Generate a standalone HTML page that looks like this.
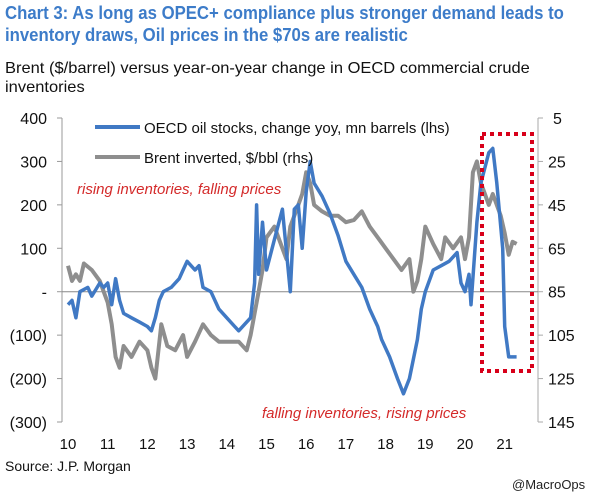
<!DOCTYPE html>
<html><head><meta charset="utf-8"><style>
body{margin:0;background:#fff;font-family:"Liberation Sans",Arial,sans-serif;}
#wrap{position:relative;width:605px;height:500px;overflow:hidden;}
.t{position:absolute;white-space:nowrap;}
</style></head><body>
<div id="wrap">
<div class="t" style="left:5px;top:2px;color:#3d7cc9;font-weight:bold;font-size:18px;line-height:22px;transform:scaleX(0.93);transform-origin:left;">Chart 3: As long as OPEC+ compliance plus stronger demand leads to<br>inventory draws, Oil prices in the $70s are realistic</div>
<div class="t" style="left:5px;top:59px;color:#111;font-size:16px;line-height:19px;transform:scaleX(1.03);transform-origin:left;">Brent ($/barrel) versus year-on-year change in OECD commercial crude<br>inventories</div>
<svg id="chart" width="605" height="500" style="position:absolute;left:0;top:0"></svg>
<div class="t" style="left:5px;top:458px;font-size:14px;color:#111;">Source: J.P. Morgan</div>
<div class="t" style="left:512px;top:477px;font-size:13px;color:#222;">@MacroOps</div>
</div>
<script>
const oecdT=[2010.0,2010.1,2010.2,2010.3,2010.5,2010.6,2010.8,2010.9,2011.0,2011.1,2011.2,2011.3,2011.4,2011.6,2011.8,2012.0,2012.1,2012.2,2012.3,2012.4,2012.6,2012.8,2012.9,2013.0,2013.2,2013.3,2013.4,2013.6,2013.8,2014.0,2014.2,2014.3,2014.5,2014.6,2014.7,2014.75,2014.8,2014.9,2015.0,2015.2,2015.4,2015.6,2015.7,2015.8,2015.9,2016.0,2016.1,2016.2,2016.4,2016.6,2016.8,2017.0,2017.2,2017.4,2017.6,2017.8,2017.9,2018.1,2018.3,2018.45,2018.6,2018.8,2018.9,2019.0,2019.2,2019.4,2019.6,2019.8,2019.9,2020.0,2020.1,2020.15,2020.3,2020.4,2020.6,2020.7,2020.8,2020.95,2021.0,2021.1,2021.3];
const oecdV=[-30,-20,-60,0,10,-10,20,10,20,-30,30,-20,-50,-60,-70,-80,-90,-60,-20,0,10,30,50,70,50,60,10,0,-40,-60,-80,-90,-70,-60,20,200,40,160,50,120,190,0,190,200,100,230,300,250,220,180,130,70,40,10,-40,-80,-110,-150,-200,-235,-200,-110,-40,0,50,60,70,90,20,0,40,-30,160,250,320,330,250,100,-80,-150,-150];
const brentT=[2010.0,2010.1,2010.2,2010.3,2010.4,2010.6,2010.8,2010.9,2011.0,2011.1,2011.2,2011.3,2011.4,2011.6,2011.8,2012.0,2012.1,2012.2,2012.35,2012.5,2012.7,2012.9,2013.0,2013.2,2013.4,2013.6,2013.8,2014.0,2014.3,2014.5,2014.6,2014.7,2014.8,2014.9,2015.0,2015.2,2015.4,2015.5,2015.6,2015.8,2015.9,2016.0,2016.1,2016.2,2016.4,2016.6,2016.8,2017.0,2017.2,2017.4,2017.6,2017.8,2018.0,2018.2,2018.4,2018.6,2018.7,2018.8,2018.9,2019.0,2019.2,2019.4,2019.5,2019.7,2019.9,2020.0,2020.1,2020.2,2020.3,2020.4,2020.5,2020.6,2020.7,2020.9,2021.0,2021.1,2021.2,2021.3];
const brentV=[73,80,77,80,72,75,80,85,90,100,115,120,110,115,108,112,120,125,100,110,112,105,115,108,100,105,108,108,108,112,105,95,85,75,60,55,65,70,55,45,40,30,35,45,48,50,50,53,52,48,55,60,65,70,75,70,85,80,70,55,63,70,60,65,60,70,60,30,25,35,40,45,40,50,58,68,62,63];
const leftTicks=[400,300,200,100,0,-100,-200,-300];
const leftLabels=["400","300","200","100","-","(100)","(200)","(300)"];
const rightTicks=[5,25,45,65,85,105,125,145];
const yearTicks=[2010,2011,2012,2013,2014,2015,2016,2017,2018,2019,2020,2021];
const yearLabels=["10","11","12","13","14","15","16","17","18","19","20","21"];
const NS="http://www.w3.org/2000/svg";
const svg=document.getElementById('chart');
const X0=62,X1=538,Y0=118,Y1=422;
const xs=t=>68+(t-2010)*39.7;
const yl=v=>Y0+(400-v)/700*(Y1-Y0);
const yr=p=>Y0+(p-5)/140*(Y1-Y0);
function mk(tag,attrs,txt){const e=document.createElementNS(NS,tag);for(const k in attrs)e.setAttribute(k,attrs[k]);if(txt!==undefined)e.textContent=txt;svg.appendChild(e);return e;}
let e;
e=mk('line',{x1:X0,y1:Y0,x2:X0,y2:Y1,stroke:'#999'});


e=mk('line',{x1:X1,y1:Y0,x2:X1,y2:Y1,stroke:'#aaa'});


e=mk('line',{x1:X0,y1:yl(0),x2:X1,y2:yl(0),stroke:'#888'});


leftTicks.forEach((v,i)=>{
 mk('line',{x1:X0-5,y1:yl(v),x2:X0,y2:yl(v),stroke:'#999'});
 e=mk('text',{x:47,y:yl(v)+6,'text-anchor':'end','font-size':16,fill:'#111'},leftLabels[i]);
 
 
});
rightTicks.forEach(v=>{
 mk('line',{x1:X1,y1:yr(v),x2:X1+5,y2:yr(v),stroke:'#aaa'});
 e=mk('text',{x:v<10?553:548,y:yr(v)+6,'font-size':16,fill:'#111'},String(v));
 
 
});
yearTicks.forEach((t,i)=>{
 e=mk('text',{x:xs(t),y:449,'text-anchor':'middle','font-size':15,fill:'#111'},yearLabels[i]);
 
 
});
e=mk('path',{d:brentT.map((t,i)=>(i?'L':'M')+xs(t).toFixed(1)+','+yr(brentV[i]).toFixed(1)).join(''),fill:'none',stroke:'#8e8e8e','stroke-width':4,'stroke-linejoin':'round'});


e=mk('path',{d:oecdT.map((t,i)=>(i?'L':'M')+xs(t).toFixed(1)+','+yl(oecdV[i]).toFixed(1)).join(''),fill:'none',stroke:'#4079c4','stroke-width':3.5,'stroke-linejoin':'round'});


e=mk('line',{x1:95,y1:127,x2:140,y2:127,stroke:'#4079c4','stroke-width':4});


e=mk('text',{x:144,y:133,'font-size':15,fill:'#111'},'OECD oil stocks, change yoy, mn barrels (lhs)');


e=mk('line',{x1:95,y1:157,x2:140,y2:157,stroke:'#8e8e8e','stroke-width':4});


e=mk('text',{x:144,y:163,'font-size':15,fill:'#111'},'Brent inverted, $/bbl (rhs)');


e=mk('text',{x:77,y:194,'font-size':15,fill:'#d42a2a','font-style':'italic'},'rising inventories, falling prices');


e=mk('text',{x:262,y:418,'font-size':15,fill:'#d42a2a','font-style':'italic'},'falling inventories, rising prices');


e=mk('rect',{x:482,y:134,width:50,height:237,fill:'none',stroke:'#d8001a','stroke-width':4,'stroke-dasharray':'4 4'});


</script>
</body></html>
